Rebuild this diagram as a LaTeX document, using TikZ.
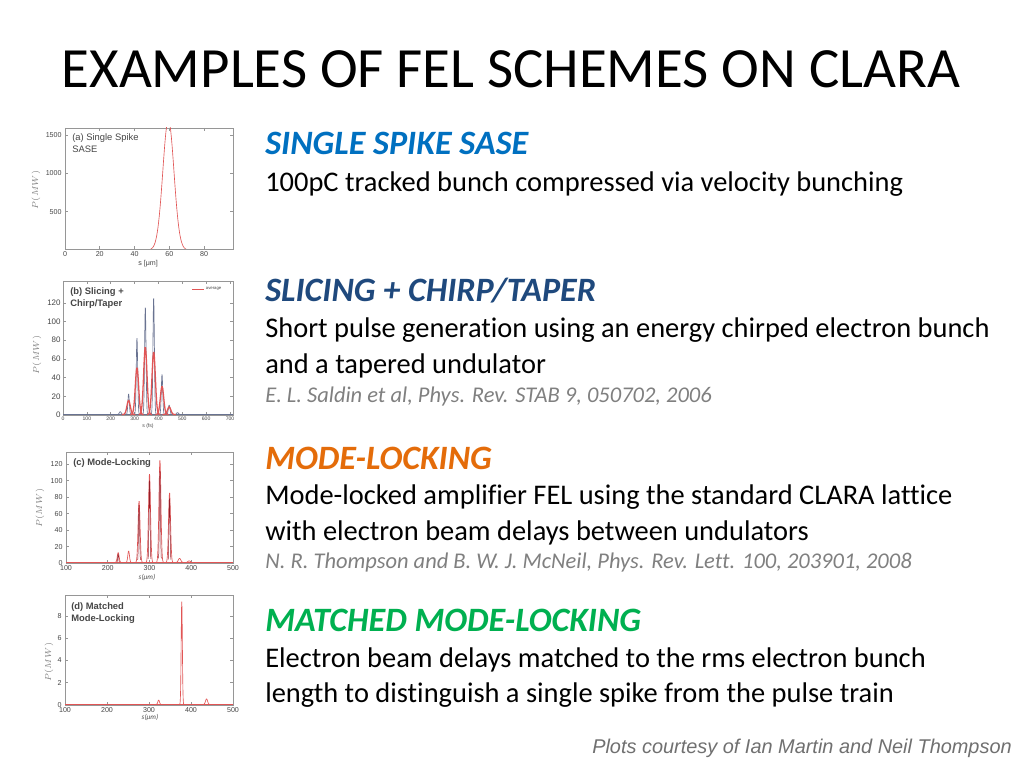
\documentclass[tikz,border=0pt]{standalone}
\usepackage{fontspec}
\setmainfont{Carlito}[Ligatures=NoCommon]
\newfontfamily\plotfont{Liberation Sans}
\newfontfamily\notefont{Liberation Sans}

\definecolor{sasblue}{RGB}{0,112,192}
\definecolor{slicblue}{RGB}{31,73,125}
\definecolor{modeorange}{RGB}{228,108,10}
\definecolor{matchgreen}{RGB}{0,176,80}
\definecolor{citegrey}{RGB}{128,128,128}
\definecolor{notegrey}{RGB}{112,112,112}
\definecolor{framegrey}{RGB}{150,150,150}
\definecolor{labgrey}{RGB}{70,70,70}
\definecolor{plotred}{RGB}{225,85,85}
\definecolor{darkred}{RGB}{150,30,40}
\definecolor{slate}{RGB}{105,115,145}

\tikzset{
    heading/.style = {anchor=base west, inner sep=0pt, font=\fontsize{24}{28}\selectfont\bfseries\itshape},
    body/.style    = {anchor=base west, inner sep=0pt, font=\fontsize{20}{24}\selectfont},
    cite/.style    = {anchor=base west, inner sep=0pt, text=citegrey, font=\fontsize{15.8}{18}\selectfont\itshape},
    frame/.style   = {draw=framegrey, line width=0.4pt},
    ticklab/.style = {text=labgrey, inner sep=0.8pt, font=\plotfont\fontsize{5}{6}\selectfont},
    panel/.style   = {text=labgrey, inner sep=0pt, anchor=north west, align=left, font=\plotfont\fontsize{6.6}{8.5}\selectfont},
    ylab/.style    = {text=citegrey, rotate=90, inner sep=0pt, font=\fontsize{6.5}{7}\selectfont},
    curve/.style   = {draw=plotred, line width=0.45pt}
}

\begin{document}
\begin{tikzpicture}[x=0.703125pt, y=-0.703125pt]
    \useasboundingbox[fill=white] (0,0) rectangle (1024,768);

    % title and footer
    \node (title) [anchor=base, inner sep=0pt, font=\fontsize{40}{46}\selectfont] at (511,88) {EXAMPLES OF FEL SCHEMES ON CLARA};
    \node (note) [anchor=base east, inner sep=0pt, text=notegrey, font=\notefont\itshape\fontsize{14}{16}\selectfont] at (1012,753) {Plots courtesy of Ian Martin and Neil Thompson};

    % texts
    \node (headA) [heading, text=sasblue] at (265,155) {SINGLE SPIKE SASE};
    \node (bodyA) [body] at (265,192) {100pC tracked bunch compressed via velocity bunching};

    \node (headB) [heading, text=slicblue] at (265,302) {SLICING + CHIRP/TAPER};
    \node (bodyB1) [body] at (265,337) {Short pulse generation using an energy chirped electron bunch};
    \node (bodyB2) [body] at (265,373) {and a tapered undulator};
    \node (citeB) [cite] at (265,402) {E. L. Saldin et al, Phys. Rev. STAB 9, 050702, 2006};

    \node (headC) [heading, text=modeorange] at (265,469) {MODE-LOCKING};
    \node (bodyC1) [body] at (265,504) {Mode-locked amplifier FEL using the standard CLARA lattice};
    \node (bodyC2) [body] at (265,540) {with electron beam delays between undulators};
    \node (citeC) [cite] at (265,568) {N. R. Thompson and B. W. J. McNeil, Phys. Rev. Lett. 100, 203901, 2008};

    \node (headD) [heading, text=matchgreen] at (265,631) {MATCHED MODE-LOCKING};
    \node (bodyD1) [body] at (265,667) {Electron beam delays matched to the rms electron bunch};
    \node (bodyD2) [body] at (265,702) {length to distinguish a single spike from the pulse train};

    % plot (a)
    \draw[frame] (65,128) rectangle (233,249);
    \foreach \v in {0,20,...,80} {
        \draw[frame] ({65+\v*1.7375},249) -- ++(0,-3) ({65+\v*1.7375},128) -- ++(0,3);
        \node (xa\v) [ticklab, anchor=north] at ({65+\v*1.7375},250) {\v};
    }
    \foreach \v in {500,1000,1500} {
        \draw[frame] (65,{250-\v*0.0766}) -- ++(3,0) (233,{250-\v*0.0766}) -- ++(-3,0);
        \node (ya\v) [ticklab, anchor=east] at (63,{250-\v*0.0766}) {\v};
    }
    \begin{scope}
        \clip (65,128) rectangle (233,249);
        \draw[curve] plot[domain=48:71, samples=60] ({65+\x*1.7375},{250-1700*0.0766*exp(-0.5*((\x-59.5)/3.2)^2)});
    \end{scope}
    \node (panelA) [panel] at (72,133) {(a) Single Spike\\SASE};
    \node (sa) [ticklab, anchor=north] at (148,259) {s [μm]};
    \node (pa) [ylab] at (36,190) {$P(MW)$};

    % plot (b)
    \draw[frame] (63,281) rectangle (233,415);
    \foreach \v in {0,100,...,700} {
        \draw[frame] ({63+\v*0.2386},415) -- ++(0,-3) ({63+\v*0.2386},281) -- ++(0,3);
        \node (xb\v) [ticklab, anchor=north, font=\plotfont\fontsize{3.6}{4}\selectfont] at ({63+\v*0.2386},416) {\v};
    }
    \foreach \v in {0,20,...,120} {
        \draw[frame] (63,{415-\v*0.935}) -- ++(3,0) (233,{415-\v*0.935}) -- ++(-3,0);
        \node (yb\v) [ticklab, anchor=east, font=\plotfont\fontsize{5.6}{6}\selectfont] at (62,{415-\v*0.935}) {\v};
    }
    \draw[slate, line width=0.4pt] (63,414.5) -- (233,414.5);
    \foreach \c/\h/\s in {240/3/4, 275/22/3, 310/82/3, 345/115/3, 380/125/3, 415/43/3, 445/10/3.5, 480/2/4}
        \draw[slate, line width=0.45pt] plot[domain=\c-4*\s:\c+4*\s, samples=30] ({63+\x*0.2386},{414.5-\h*0.935*exp(-0.5*((\x-\c)/\s)^2)});
    \foreach \c/\h/\s in {275/15/7, 310/50/7, 345/72/7, 380/67/7, 415/30/7, 445/8/7}
        \draw[curve, line width=0.9pt] plot[domain=\c-4*\s:\c+4*\s, samples=30] ({63+\x*0.2386},{414.5-\h*0.935*exp(-0.5*((\x-\c)/\s)^2)});
    \draw[curve] (192,289) -- (204,289);
    \node (avg) [ticklab, anchor=west, font=\plotfont\fontsize{3}{3}\selectfont] at (204.5,289) {average};
    \node (panelB) [panel, font=\plotfont\bfseries\fontsize{6.6}{8.5}\selectfont] at (70,287) {(b) Slicing +\\Chirp/Taper};
    \node (sb) [ticklab, anchor=north, font=\plotfont\fontsize{3.6}{4}\selectfont] at (148,422) {s (fs)};
    \node (pb) [ylab] at (37,355) {$P(MW)$};

    % plot (c)
    \draw[frame] (66,452) rectangle (233,563);
    \foreach \v in {100,200,...,500} {
        \draw[frame] ({66+(\v-100)*0.4175},563) -- ++(0,-3) ({66+(\v-100)*0.4175},452) -- ++(0,3);
        \node (xc\v) [ticklab, anchor=north] at ({66+(\v-100)*0.4175},564) {\v};
    }
    \foreach \v in {0,20,...,120} {
        \draw[frame] (66,{563-\v*0.8225}) -- ++(3,0) (233,{563-\v*0.8225}) -- ++(-3,0);
        \node (yc\v) [ticklab, anchor=east] at (64,{563-\v*0.8225}) {\v};
    }
    \draw[curve] (66,562.5) -- (233,562.5);
    \foreach \c/\h/\s in {225/12/2.2, 250/14/2, 275/75/2.4, 300/108/2.4, 325/125/2.4, 348/85/2.4, 372/5/3, 395/2/3}
        \draw[curve] plot[domain=\c-4*\s:\c+4*\s, samples=30] ({66+(\x-100)*0.4175},{562.5-\h*0.8225*exp(-0.5*((\x-\c)/\s)^2)});
    \foreach \c/\h/\s in {225/10/1.2, 275/70/1.3, 300/100/1.3, 325/112/1.3, 348/78/1.3}
        \draw[darkred, line width=0.35pt] plot[domain=\c-2.5*\s:\c+2.5*\s, samples=20] ({66+(\x-100)*0.4175},{562.5-\h*0.8225*exp(-0.5*((\x-\c)/\s)^2)});
    \node (panelC) [panel, font=\plotfont\bfseries\fontsize{6.6}{8.5}\selectfont] at (73,458) {(c) Mode-Locking};
    \node (sc) [ticklab, anchor=north, font=\itshape\fontsize{5}{6}\selectfont] at (147,573) {s(μm)};
    \node (pc) [ylab] at (40,508) {$P(MW)$};

    % plot (d)
    \draw[frame] (65,595) rectangle (233,705);
    \foreach \v in {100,200,...,500} {
        \draw[frame] ({65+(\v-100)*0.42},705) -- ++(0,-3) ({65+(\v-100)*0.42},595) -- ++(0,3);
        \node (xd\v) [ticklab, anchor=north] at ({65+(\v-100)*0.42},706) {\v};
    }
    \foreach \v in {0,2,...,8} {
        \draw[frame] (65,{705-\v*11.125}) -- ++(3,0) (233,{705-\v*11.125}) -- ++(-3,0);
        \node (yd\v) [ticklab, anchor=east] at (63,{705-\v*11.125}) {\v};
    }
    \draw[curve] (65,704.5) -- (233,704.5);
    \foreach \c/\h/\s in {323/0.4/2, 378/9.3/1.4, 437/0.5/2.5}
        \draw[curve] plot[domain=\c-4*\s:\c+4*\s, samples=30] ({65+(\x-100)*0.42},{704.5-\h*11.125*exp(-0.5*((\x-\c)/\s)^2)});
    \node (panelD) [panel, font=\plotfont\bfseries\fontsize{6.6}{8.5}\selectfont] at (71,602) {(d) Matched\\Mode-Locking};
    \node (sd) [ticklab, anchor=north, font=\itshape\fontsize{5}{6}\selectfont] at (150,713) {s(μm)};
    \node (pd) [ylab] at (49,662) {$P(MW)$};
\end{tikzpicture}
\end{document}
